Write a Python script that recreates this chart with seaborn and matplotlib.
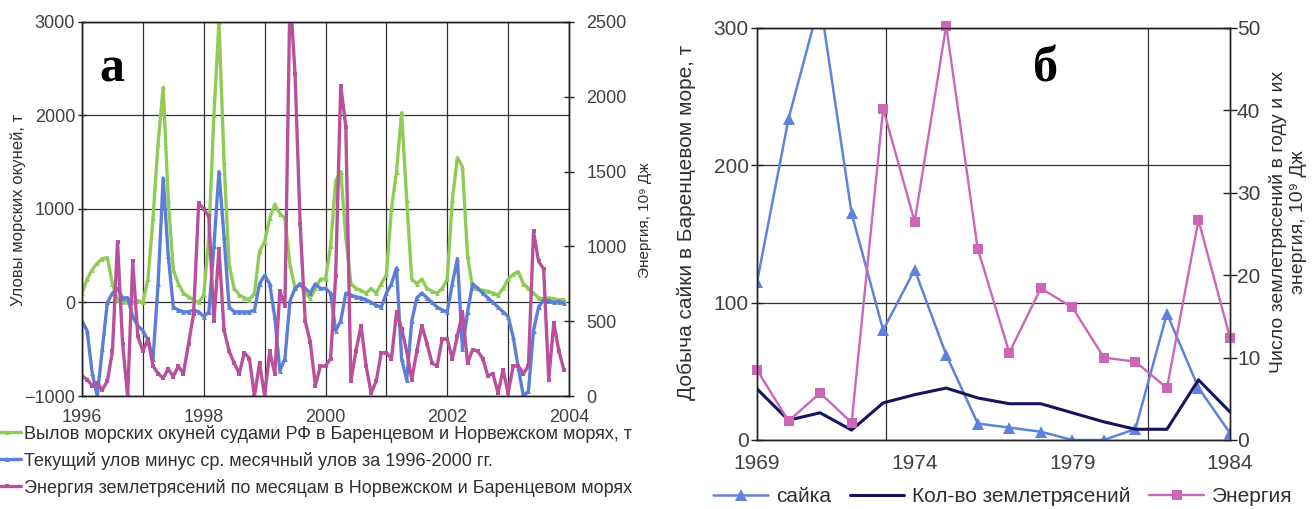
import numpy as np
import pandas as pd
import matplotlib
matplotlib.use("Agg")
import matplotlib.pyplot as plt
import seaborn as sns

# --- DATA: panel a, monthly, Jan 1996 .. Dec 2003 ---
months_a = 1996 + np.arange(96) / 12.0

catch = [100, 250, 350, 420, 470, 480, 200, 30, 0, 10, 0, 20,            # 1996
         0, 250, 900, 1700, 2300, 1100, 350, 200, 100, 60, 30, 0,         # 1997
         80, 700, 2000, 3000, 1500, 400, 150, 80, 50, 30, 100, 550,       # 1998
         650, 900, 1050, 950, 900, 400, 150, 200, 100, 50, 150, 250,      # 1999
         250, 600, 1300, 1400, 700, 200, 150, 130, 100, 150, 100, 200,    # 2000
         300, 1000, 1400, 2030, 1100, 250, 200, 250, 150, 120, 100, 150,  # 2001
         250, 1100, 1550, 1450, 500, 150, 150, 130, 120, 100, 80, 150,    # 2002
         250, 300, 330, 200, 150, 100, 50, 40, 50, 40, 30, 30]            # 2003

anomaly = [-200, -300, -750, -1000, -500, 0, 100, 150, 50, 50, -150, -250,
           -300, -400, -600, 200, 1330, 500, -50, -80, -100, -100, -80, -100,
           -150, -100, 600, 1400, 700, -50, -100, -100, -100, -100, -80, 200,
           290, 200, -160, -730, -600, 20, 150, 200, 150, 100, 200, 150,
           150, 100, -300, -200, 100, 80, 60, 50, 30, 0, -30, -50,
           100, 200, 370, -600, -830, -200, 50, 100, 50, 0, -50, -80,
           -100, 200, 470, -500, -100, 200, 150, 100, 50, 0, -50, -100,
           -150, -370, -700, -1000, -950, -300, -50, 30, 20, 0, 10, -10]

energy_a = [135, 110, 70, 90, 40, 100, 300, 1030, 350, 0, 900, 400,
            300, 380, 200, 150, 120, 180, 130, 200, 150, 350, 550, 1290,
            1250, 1200, 500, 980, 440, 300, 220, 150, 290, 250, 0, 220,
            0, 300, 150, 700, 600, 2700, 2150, 1150, 500, 360, 70, 200,
            200, 250, 800, 2075, 1800, 100, 300, 470, 200, 20, 100, 290,
            290, 250, 560, 450, 300, 110, 300, 470, 350, 220, 200, 380,
            380, 250, 400, 560, 220, 310, 300, 250, 135, 150, 20, 175,
            20, 200, 200, 150, 200, 1100, 900, 850, 110, 490, 300, 175]

labels_a = ["Вылов морских окуней судами РФ в Баренцевом и Норвежском морях, т",
            "Текущий улов минус ср. месячный улов за 1996-2000 гг.",
            "Энергия землетрясений по месяцам в Норвежском и Баренцевом морях"]

# --- DATA: panel b, yearly 1969 .. 1984 ---
years_b = list(range(1969, 1985))
saika = [115, 234, 320, 165, 80, 124, 62, 12, 9, 6, 0, 0, 8, 92, 38, 5]
quakes = [6.2, 2.4, 3.3, 1.2, 4.5, 5.5, 6.3, 5.1, 4.4, 4.4, 3.3, 2.2, 1.3, 1.3, 7.3, 3.4]
energy_b = [8.5, 2.3, 5.7, 2.1, 40.2, 26.5, 50.3, 23.2, 10.6, 18.4, 16.1, 10.0, 9.5, 6.3, 26.7, 12.4]
labels_b = ["сайка", "Кол-во землетрясений", "Энергия"]

df_a = pd.DataFrame({"t": months_a, "catch": catch, "anom": anomaly, "energy": energy_a})
df_b = pd.DataFrame({"year": years_b, "saika": saika, "quakes": quakes, "energy": energy_b})

# --- STYLE ---
sns.set_style("white")
plt.rcParams["font.family"] = ["Liberation Sans", "DejaVu Sans"]
plt.rcParams["text.color"] = "#303030"
plt.rcParams["axes.labelcolor"] = "#303030"
plt.rcParams["xtick.color"] = "#202020"
plt.rcParams["ytick.color"] = "#202020"
plt.rcParams["xtick.labelcolor"] = "#404040"
plt.rcParams["ytick.labelcolor"] = "#404040"

GREEN = "#8fcc55"
BLUE = "#5b7fd8"
MAGENTA = "#b8509c"
B_BLUE = "#5f83dc"
NAVY = "#16145c"
PINK = "#cc66b8"
GRID = "#303030"

fig = plt.figure(figsize=(13.12, 5.09), dpi=100)

# ---------------- panel a ----------------
ax1 = fig.add_axes([0.0625, 0.222, 0.3712, 0.7348])
ax1r = ax1.twinx()

sns.lineplot(data=df_a, x="t", y="catch", ax=ax1, color=GREEN, lw=2.4,
             marker="^", markersize=3.5, markeredgewidth=0, legend=False)
sns.lineplot(data=df_a, x="t", y="anom", ax=ax1, color=BLUE, lw=2.4,
             marker="^", markersize=3.5, markeredgewidth=0, legend=False)
sns.lineplot(data=df_a, x="t", y="energy", ax=ax1r, color=MAGENTA, lw=2.4,
             marker="s", markersize=3, markeredgewidth=0, legend=False)

ax1.set_xlim(1996, 2004)
ax1.set_ylim(-1000, 3000)
ax1r.set_ylim(0, 2500)
ax1.set_xticks([1996, 1998, 2000, 2002, 2004])
ax1.set_xticks(list(range(1997, 2004)), minor=True)
ax1.set_yticks([-1000, 0, 1000, 2000, 3000])
ax1r.set_yticks([0, 500, 1000, 1500, 2000, 2500])
ax1.grid(True, which="both", axis="x", color=GRID, lw=0.9)
ax1.grid(True, which="major", axis="y", color=GRID, lw=0.9)
ax1.tick_params(axis="both", which="major", direction="inout", length=6, width=1,
                labelsize=13, pad=2)
ax1.tick_params(axis="x", which="minor", length=0)
ax1.tick_params(axis="x", which="major", pad=6)
ax1r.tick_params(axis="y", direction="inout", length=7, width=1, labelsize=13, pad=9)
ax1.set_xlabel("")
ax1.set_ylabel("")
ax1r.set_ylabel("")
for ax in (ax1, ax1r):
    for sp in ax.spines.values():
        sp.set_color("#202020")
        sp.set_linewidth(1)

fig.text(18 / 1312, 1 - 210 / 509, "Уловы морских окуней, т", rotation=90,
         ha="center", va="center", fontsize=12)
fig.text(645 / 1312, 1 - 220 / 509, "Энергия, 10⁹ Дж", rotation=90,
         ha="center", va="center", fontsize=11)
fig.text(112 / 1312, 1 - 70 / 509, "а", fontsize=36, fontweight="bold",
         family="Liberation Serif", ha="center", va="center", color="black")

handles_a = [ax1.lines[0], ax1.lines[1], ax1r.lines[0]]
fig.legend(handles_a, labels_a, loc="upper left", bbox_to_anchor=(-0.006, 0.166),
           frameon=False, fontsize=13, labelspacing=0.5, handlelength=1.6,
           handletextpad=0.15, borderaxespad=0, borderpad=0)

# ---------------- panel b ----------------
ax2 = fig.add_axes([0.577, 0.1356, 0.3605, 0.8094])
ax2r = ax2.twinx()

sns.lineplot(data=df_b, x="year", y="saika", ax=ax2, color=B_BLUE, lw=1.8,
             marker="^", markersize=9, markeredgewidth=0, legend=False)
sns.lineplot(data=df_b, x="year", y="quakes", ax=ax2r, color=NAVY, lw=2.2,
             legend=False)
sns.lineplot(data=df_b, x="year", y="energy", ax=ax2r, color=PINK, lw=1.7,
             marker="s", markersize=7, markeredgewidth=0, legend=False, clip_on=False)

ax2.set_xlim(1969, 1984)
ax2.set_ylim(0, 300)
ax2r.set_ylim(0, 50)
ax2.set_xticks([1969, 1974, 1979, 1984])
ax2.set_xticks([1973.1, 1981.4], minor=True)
ax2.set_yticks([0, 100, 200, 300])
ax2r.set_yticks([0, 10, 20, 30, 40, 50])
ax2.grid(True, which="minor", axis="x", color=GRID, lw=0.9)
ax2.grid(True, which="major", axis="y", color=GRID, lw=0.9)
ax2.tick_params(axis="both", which="major", direction="inout", length=8, width=1,
                labelsize=15, pad=2)
ax2.tick_params(axis="x", which="major", pad=6)
ax2.tick_params(axis="x", which="minor", length=0)
ax2r.tick_params(axis="y", direction="inout", length=10, width=1, labelsize=15, pad=0)
ax2.set_xlabel("")
ax2.set_ylabel("")
ax2r.set_ylabel("")
for ax in (ax2, ax2r):
    for sp in ax.spines.values():
        sp.set_color("#202020")
        sp.set_linewidth(1)

fig.text(686 / 1312, 1 - 222 / 509, "Добыча сайки в Баренцевом море, т", rotation=90,
         ha="center", va="center", fontsize=15)
fig.text(1288 / 1312, 1 - 222 / 509, "Число землетрясений в году и их\nэнергия, 10⁹ Дж",
         rotation=90, ha="center", va="center", fontsize=14, multialignment="center",
         linespacing=1.25)
fig.text(1046 / 1312, 1 - 70 / 509, "б", fontsize=36, fontweight="bold",
         family="Liberation Serif", ha="center", va="center", color="black")

handles_b = [ax2.lines[0], ax2r.lines[0], ax2r.lines[1]]
fig.legend(handles_b, labels_b, loc="center", bbox_to_anchor=(1003 / 1312, 1 - 497 / 509),
           ncol=3, frameon=False, fontsize=15, columnspacing=0.9, handlelength=2.6,
           handletextpad=0.4, borderaxespad=0, borderpad=0)

fig.savefig("out.png", dpi=100)
